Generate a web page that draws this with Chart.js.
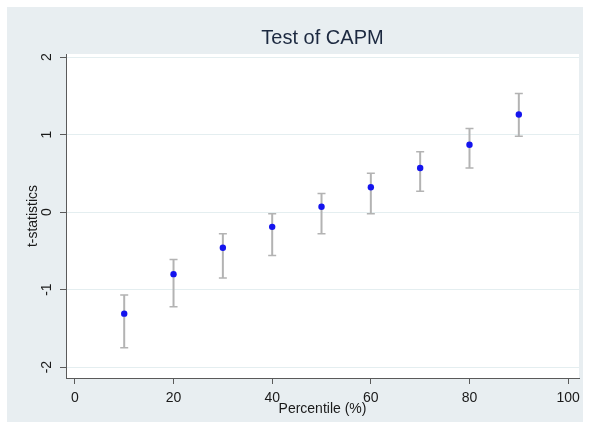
<!DOCTYPE html>
<html>
<head>
<meta charset="utf-8">
<script src="https://cdn.jsdelivr.net/npm/chart.js@4.4.1/dist/chart.umd.min.js"></script>
<style>
  html, body { margin: 0; padding: 0; background: #fff; }
  #wrap { width: 590px; height: 429px; }
</style>
</head>
<body>
<div id="wrap"><canvas id="capm" width="590" height="429"></canvas></div>
<script>
// Percentile buckets and their t-statistics with confidence bounds
const percentiles = [10, 20, 30, 40, 50, 60, 70, 80, 90];
const tStats = [-1.31, -0.80, -0.46, -0.19, 0.07, 0.32, 0.57, 0.87, 1.26];
const upperCI = [-1.07, -0.61, -0.28, -0.02, 0.24, 0.50, 0.78, 1.08, 1.53];
const lowerCI = [-1.75, -1.22, -0.85, -0.56, -0.28, -0.02, 0.27, 0.57, 0.98];

const xTicks = [0, 20, 40, 60, 80, 100];
const yTicks = [-2, -1, 0, 1, 2];
const chartTitle = 'Test of CAPM';

const FONT = '"Liberation Sans", Arial, sans-serif';
const PANEL = '#e8eef1';
const AXIS = '#5a5a5a';

// Stata-like backdrop: outer panel plus white plot region
const backdrop = {
  id: 'backdrop',
  beforeDraw(chart) {
    const { ctx, chartArea: a } = chart;
    ctx.save();
    ctx.fillStyle = '#ffffff';
    ctx.fillRect(0, 0, chart.width, chart.height);
    ctx.fillStyle = PANEL;
    ctx.fillRect(7, 7, 576, 415);
    ctx.fillStyle = '#ffffff';
    ctx.fillRect(a.left, a.top, a.right - a.left, a.bottom - a.top);
    ctx.restore();
  }
};

// Capped vertical error bars, drawn under the points
const errorBars = {
  id: 'errorBars',
  beforeDatasetsDraw(chart) {
    const { ctx, scales: { x, y } } = chart;
    ctx.save();
    ctx.strokeStyle = '#b3b3b3';
    percentiles.forEach((p, i) => {
      const px = x.getPixelForValue(p);
      const top = y.getPixelForValue(upperCI[i]);
      const bot = y.getPixelForValue(lowerCI[i]);
      ctx.lineWidth = 2;
      ctx.beginPath();
      ctx.moveTo(px, top);
      ctx.lineTo(px, bot);
      ctx.stroke();
      ctx.lineWidth = 1.5;
      ctx.beginPath();
      ctx.moveTo(px - 4, top);
      ctx.lineTo(px + 4, top);
      ctx.moveTo(px - 4, bot);
      ctx.lineTo(px + 4, bot);
      ctx.stroke();
    });
    ctx.restore();
  }
};

// Title centred over the plot region, and vertical y tick labels
const annotations = {
  id: 'annotations',
  afterDraw(chart) {
    const { ctx, chartArea: a, scales: { y } } = chart;
    ctx.save();
    ctx.textAlign = 'center';
    ctx.textBaseline = 'middle';

    ctx.fillStyle = '#1c2940';
    ctx.font = '20px ' + FONT;
    ctx.fillText(chartTitle, (a.left + a.right) / 2, 38.5);

    ctx.fillStyle = '#1a1a1a';
    ctx.font = '14px ' + FONT;
    yTicks.forEach(v => {
      const py = y.getPixelForValue(v);
      ctx.save();
      ctx.translate(y.right - 19, py);
      ctx.rotate(-Math.PI / 2);
      ctx.fillText(String(v), 0, 0);
      ctx.restore();
    });
    ctx.restore();
  }
};

new Chart(document.getElementById('capm'), {
  type: 'scatter',
  data: {
    datasets: [{
      label: 't-statistics',
      data: percentiles.map((p, i) => ({ x: p, y: tStats[i] })),
      backgroundColor: '#1414ee',
      borderColor: '#1414ee',
      pointRadius: 3.2,
      pointBorderWidth: 0,
    }]
  },
  options: {
    responsive: false,
    animation: false,
    layout: { padding: { left: 0, right: 11, top: 54, bottom: 0 } },
    plugins: {
      legend: { display: false },
      tooltip: { enabled: false },
      title: { display: false },
    },
    scales: {
      x: {
        type: 'linear',
        min: -1.8,
        max: 102.2,
        afterBuildTicks: s => { s.ticks = xTicks.map(v => ({ value: v })); },
        afterFit: s => { s.height = 51; },
        grid: { drawOnChartArea: false, tickLength: 6, tickColor: AXIS, tickWidth: 1 },
        border: { color: AXIS, width: 1 },
        ticks: {
          color: '#1a1a1a',
          font: { family: FONT, size: 14 },
          padding: 6,
          maxRotation: 0,
          autoSkip: false,
        },
        title: {
          display: true,
          text: 'Percentile (%)',
          color: '#1a1a1a',
          font: { family: FONT, size: 14 },
          padding: { top: 0, bottom: 11 },
        },
      },
      y: {
        type: 'linear',
        min: -2.14,
        max: 2.04,
        afterBuildTicks: s => { s.ticks = yTicks.map(v => ({ value: v })); },
        afterFit: s => { s.width = 66; },
        grid: { color: '#e4eef0', lineWidth: 1, tickLength: 6, tickColor: AXIS, tickWidth: 1 },
        border: { color: AXIS, width: 1 },
        ticks: { display: false },
        title: {
          display: true,
          text: 't-statistics',
          color: '#1a1a1a',
          font: { family: FONT, size: 14 },
          padding: { top: 24.6, bottom: 0 },
        },
      },
    },
  },
  plugins: [backdrop, errorBars, annotations],
});
</script>
</body>
</html>
